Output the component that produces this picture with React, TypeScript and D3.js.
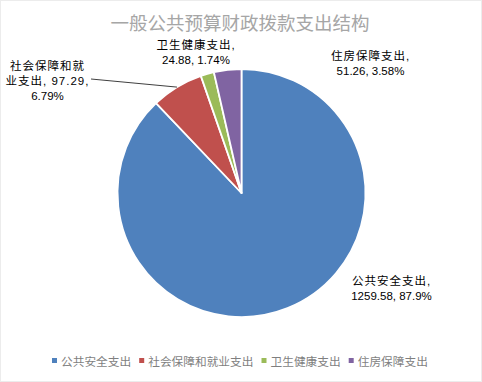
import React from "react";
import * as d3 from "d3";

const title = "一般公共预算财政拨款支出结构";
const categories = ["公共安全支出", "社会保障和就业支出", "卫生健康支出", "住房保障支出"];
const values = [1259.58, 97.29, 24.88, 51.26];
const percents = ["87.9%", "6.79%", "1.74%", "3.58%"];
const colors = ["#4F81BD", "#C0504D", "#9BBB59", "#8064A2"];

// label layout: lines of text, anchor center x, first baseline y
const labelLayout = [
  { lines: ["公共安全支出,", "1259.58, 87.9%"], x: 391.5, y: 285, leader: false },
  { lines: ["社会保障和就", "业支出, 97.29,", "6.79%"], x: 47.5, y: 70, leader: true, lx: 91, ly: 79 },
  { lines: ["卫生健康支出,", "24.88, 1.74%"], x: 196, y: 49, leader: false },
  { lines: ["住房保障支出,", "51.26, 3.58%"], x: 370.5, y: 60, leader: false },
];

const W = 482;
const H = 382;
const cx = 241.5;
const cy = 193;
const R = 124;
const FONT = "'Liberation Sans', 'Noto Sans CJK SC', sans-serif";

function isCJK(s: string) {
  return /[\u4e00-\u9fff]/.test(s);
}

export default function App() {
  const pie = d3.pie<number>().sort(null).value((d) => d);
  const arcs = pie(values);
  const arc = d3.arc<d3.PieArcDatum<number>>().innerRadius(0).outerRadius(R);

  // legend layout
  const legendY = 366;
  const legendFont = 11.7;
  let cursor = 52;
  const legendItems = categories.map((c, i) => {
    const sx = cursor;
    const tx = sx + 9;
    const w = c.length * legendFont;
    cursor = tx + w + 8;
    return { c, sx, tx, color: colors[i] };
  });

  return (
    <svg
      width={W}
      height={H}
      style={{ position: "absolute", left: 0, top: 0 }}
    >
      <rect x={0.5} y={0.5} width={W - 1} height={H - 1} fill="#fff" stroke="#ececec" />
      <text
        x={240}
        y={30}
        textAnchor="middle"
        fontFamily={FONT}
        fontSize={18.5}
        fill="#a6a6a6"
      >
        {title}
      </text>
      <g transform={`translate(${cx},${cy})`}>
        {arcs.map((a, i) => (
          <path key={i} d={arc(a) || ""} fill={colors[i]} stroke="#fff" strokeWidth={1.8} strokeLinejoin="round" />
        ))}
      </g>
      {arcs.map((a, i) => {
        const L = labelLayout[i];
        if (!L.leader) return null;
        const mid = (a.startAngle + a.endAngle) / 2;
        const ex = cx + R * Math.sin(mid);
        const ey = cy - R * Math.cos(mid);
        return <line key={"l" + i} x1={L.lx} y1={L.ly} x2={ex} y2={ey} stroke="#404040" strokeWidth={1} />;
      })}
      {labelLayout.map((L, i) => (
        <text key={"t" + i} textAnchor="middle" fontFamily={FONT} fontSize={11.5} fill="#000">
          {L.lines.map((ln, j) => (
            <tspan key={j} x={L.x} y={L.y + j * 15} letterSpacing={isCJK(ln) ? 1 : 0}>
              {ln}
            </tspan>
          ))}
        </text>
      ))}
      {legendItems.map((it, i) => (
        <g key={"lg" + i}>
          <rect x={it.sx} y={legendY - 8} width={5} height={5} fill={it.color} />
          <text x={it.tx} y={legendY} fontFamily={FONT} fontSize={legendFont} fill="#7f7f7f">
            {it.c}
          </text>
        </g>
      ))}
    </svg>
  );
}
